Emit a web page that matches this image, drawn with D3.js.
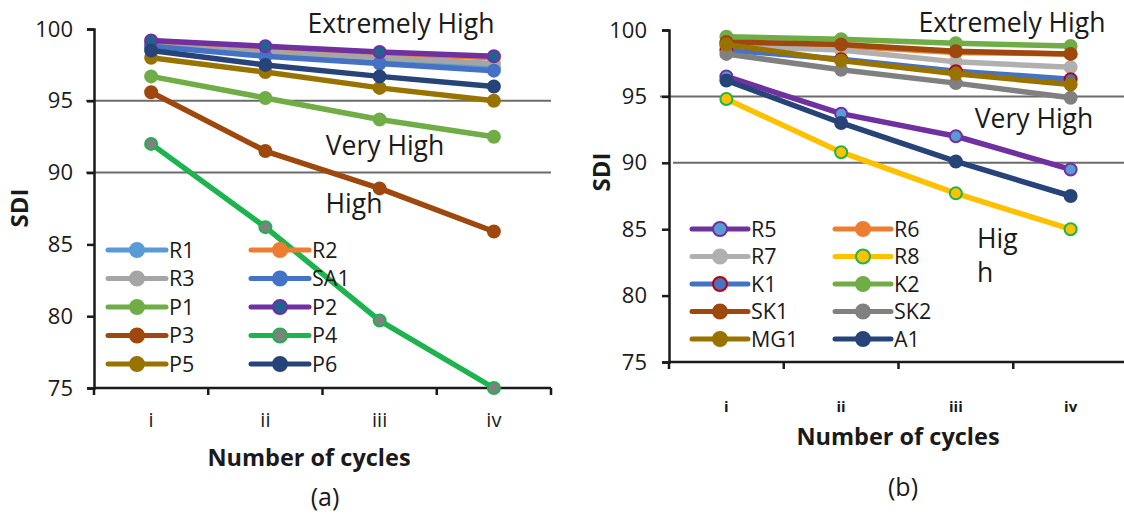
<!DOCTYPE html>
<html>
<head>
<meta charset="utf-8">
<script src="https://cdn.jsdelivr.net/npm/d3@7"></script>
<style>
  html, body { margin: 0; padding: 0; background: #fff; }
  svg { display: block; }
  text { font-family: "Open Sans", "Noto Sans", sans-serif; fill: #1a1a1a; }
</style>
</head>
<body>
<svg id="chart" width="1124" height="514"></svg>
<script>
// ---------- DATA ----------
const cycles = ["i", "ii", "iii", "iv"];
const yTicks = [75, 80, 85, 90, 95, 100];
const thresholds = [95, 90];

// Panel (a)
const namesA = ["R1", "R2", "R3", "SA1", "P1", "P2", "P3", "P4", "P5", "P6"];
const R1 = [98.9, 98.2, 97.7, 97.3];
const R2 = [99.0, 98.7, 98.3, 98.0];
const R3 = [98.8, 98.4, 98.0, 97.6];
const SA1 = [98.8, 98.1, 97.6, 97.1];
const P1 = [96.7, 95.2, 93.7, 92.5];
const P2 = [99.2, 98.8, 98.4, 98.1];
const P3 = [95.6, 91.5, 88.9, 85.9];
const P4 = [92.0, 86.2, 79.7, 75.0];
const P5 = [98.0, 97.0, 95.9, 95.0];
const P6 = [98.5, 97.5, 96.7, 96.0];
const valuesA = [R1, R2, R3, SA1, P1, P2, P3, P4, P5, P6];

// Panel (b)
const namesB = ["R5", "R6", "R7", "R8", "K1", "K2", "SK1", "SK2", "MG1", "A1"];
const R5 = [96.5, 93.7, 92.0, 89.5];
const R6 = [99.0, 98.8, 98.3, 98.2];
const R7 = [98.8, 98.5, 97.6, 97.2];
const R8 = [94.8, 90.8, 87.7, 85.0];
const K1 = [98.5, 97.8, 96.9, 96.3];
const K2 = [99.5, 99.3, 99.0, 98.8];
const SK1 = [99.1, 98.9, 98.4, 98.2];
const SK2 = [98.2, 97.0, 96.0, 94.9];
const MG1 = [98.9, 97.7, 96.7, 95.9];
const A1 = [96.2, 93.0, 90.1, 87.5];
const valuesB = [R5, R6, R7, R8, K1, K2, SK1, SK2, MG1, A1];

// ---------- STYLES ----------
const styleA = {
  R1:  { line: "#5b9bd5", fill: "#5b9bd5", stroke: "#5b9bd5" },
  R2:  { line: "#ed7d31", fill: "#ed7d31", stroke: "#ed7d31" },
  R3:  { line: "#a5a5a5", fill: "#a5a5a5", stroke: "#a5a5a5" },
  SA1: { line: "#4472c4", fill: "#4472c4", stroke: "#4472c4" },
  P1:  { line: "#70ad47", fill: "#70ad47", stroke: "#70ad47" },
  P2:  { line: "#7030a0", fill: "#1f6391", stroke: "#7030a0" },
  P3:  { line: "#9e480e", fill: "#9e480e", stroke: "#9e480e" },
  P4:  { line: "#1db34f", fill: "#808080", stroke: "#1db34f" },
  P5:  { line: "#997300", fill: "#997300", stroke: "#997300" },
  P6:  { line: "#264478", fill: "#264478", stroke: "#264478" }
};
const styleB = {
  R5:  { line: "#7030a0", fill: "#5b9bd5", stroke: "#7030a0" },
  R6:  { line: "#ed7d31", fill: "#ed7d31", stroke: "#ed7d31" },
  R7:  { line: "#b0b0b0", fill: "#b0b0b0", stroke: "#b0b0b0" },
  R8:  { line: "#ffc000", fill: "#ffc000", stroke: "#1db34f" },
  K1:  { line: "#4472c4", fill: "#4472c4", stroke: "#c00000" },
  K2:  { line: "#70ad47", fill: "#70ad47", stroke: "#70ad47" },
  SK1: { line: "#9e480e", fill: "#9e480e", stroke: "#9e480e" },
  SK2: { line: "#808080", fill: "#808080", stroke: "#808080" },
  MG1: { line: "#997300", fill: "#997300", stroke: "#997300" },
  A1:  { line: "#264478", fill: "#264478", stroke: "#264478" }
};

const svg = d3.select("#chart");

function drawPanel(cfg) {
  const g = svg.append("g");
  const x = d3.scaleBand().domain(cycles).range([cfg.x0, cfg.x1]);
  const y = d3.scaleLinear().domain([75, 100]).range([cfg.y0, cfg.y1]);
  const cx = c => x(c) + x.bandwidth() / 2;

  // threshold lines
  thresholds.forEach((t, i) => {
    g.append("line")
      .attr("x1", cfg.gridStart[i]).attr("x2", cfg.gridEnd)
      .attr("y1", y(t)).attr("y2", y(t))
      .attr("stroke", "#6b6b6b").attr("stroke-width", 2);
  });

  // y axis
  const yAxis = d3.axisLeft(y).tickValues(yTicks).tickSize(7).tickPadding(cfg.yTickPad);
  const ya = g.append("g").attr("transform", `translate(${cfg.x0},0)`).call(yAxis);
  ya.select(".domain").attr("stroke", "#1a1a1a").attr("stroke-width", 2.5);
  ya.selectAll(".tick line").attr("stroke", "#1a1a1a").attr("stroke-width", 2.5);
  ya.selectAll(".tick text").style("font-size", "22px").style("font-family", "'Open Sans', sans-serif")
    .attr("fill", "#1a1a1a");

  // x axis
  const xAxis = d3.axisBottom(x).tickSize(0).tickPadding(cfg.xTickPad);
  const xa = g.append("g").attr("transform", `translate(0,${cfg.y0})`).call(xAxis);
  xa.select(".domain").remove();
  xa.selectAll(".tick text").style("font-size", cfg.xTickSize).style("font-weight", cfg.xTickWeight)
    .style("font-family", "'Open Sans', sans-serif").attr("fill", "#1a1a1a");
  g.append("line").attr("x1", cfg.x0).attr("x2", cfg.x1).attr("y1", cfg.y0).attr("y2", cfg.y0)
    .attr("stroke", "#1a1a1a").attr("stroke-width", 2.5);
  const bounds = cycles.map(c => x(c)).concat([cfg.x1]);
  g.selectAll(".xb").data(bounds).enter().append("line")
    .attr("x1", d => d).attr("x2", d => d).attr("y1", cfg.y0).attr("y2", cfg.y0 + 7)
    .attr("stroke", "#1a1a1a").attr("stroke-width", 2.5);

  // region labels
  cfg.labels.forEach(l => {
    g.append("text").attr("x", l.x).attr("y", l.y).attr("text-anchor", l.anchor || "middle")
      .style("font-size", "26.5px").text(l.t);
  });

  // series
  const line = d3.line().x((d, i) => cx(cycles[i])).y(d => y(d));
  cfg.names.forEach((n, k) => {
    const s = cfg.style[n];
    const vals = cfg.values[k];
    const sg = g.append("g");
    sg.append("path").datum(vals).attr("d", line).attr("fill", "none")
      .attr("stroke", s.line).attr("stroke-width", 5.5).attr("stroke-linejoin", "round");
    sg.selectAll("circle").data(vals).enter().append("circle")
      .attr("cx", (d, i) => cx(cycles[i])).attr("cy", d => y(d)).attr("r", 6)
      .attr("fill", s.fill).attr("stroke", s.stroke).attr("stroke-width", 2);
  });

  // legend
  const lg = g.append("g");
  cfg.names.forEach((n, k) => {
    const s = cfg.style[n];
    const col = k % 2, row = Math.floor(k / 2);
    const lx = cfg.legX[col], ly = cfg.legY0 + row * cfg.legDy;
    lg.append("line").attr("x1", lx).attr("x2", lx + cfg.legW).attr("y1", ly).attr("y2", ly)
      .attr("stroke", s.line).attr("stroke-width", 5).attr("stroke-linecap", "round");
    lg.append("circle").attr("cx", lx + cfg.legW / 2).attr("cy", ly).attr("r", 7)
      .attr("fill", s.fill).attr("stroke", s.stroke).attr("stroke-width", 2);
    lg.append("text").attr("x", lx + cfg.legW + 3).attr("y", ly).attr("dy", "0.36em")
      .style("font-size", "21.5px").text(n);
  });

  // titles
  g.append("text").attr("transform", `translate(${cfg.yTitleX},${cfg.yTitleY}) rotate(-90)`)
    .attr("text-anchor", "middle").attr("dy", "0.35em")
    .style("font-size", "24px").style("font-weight", "bold").text("SDI");
  g.append("text").attr("x", cfg.xTitleX).attr("y", cfg.xTitleY).attr("text-anchor", "middle")
    .style("font-size", "23.5px").style("font-weight", "bold").text("Number of cycles");
  g.append("text").attr("x", cfg.capX).attr("y", cfg.capY).attr("text-anchor", "middle")
    .style("font-size", "25px").text(cfg.caption);
}

drawPanel({
  names: namesA, values: valuesA, style: styleA,
  x0: 94, x1: 551, y0: 388, y1: 29,
  gridStart: [86, 86], gridEnd: 551,
  yTickPad: 14,
  xTickPad: 25, xTickSize: "20px", xTickWeight: "normal",
  labels: [
    { t: "Extremely High", x: 401, y: 33 },
    { t: "Very High", x: 385, y: 155 },
    { t: "High", x: 354, y: 213 }
  ],
  legX: [108, 251], legW: 58, legY0: 250, legDy: 28.5,
  yTitleX: 20, yTitleY: 208,
  xTitleX: 309, xTitleY: 466,
  capX: 325, capY: 506, caption: "(a)"
});

drawPanel({
  names: namesB, values: valuesB, style: styleB,
  x0: 669, x1: 1128, y0: 362, y1: 30,
  gridStart: [660, 673], gridEnd: 1124,
  yTickPad: 15,
  xTickPad: 39, xTickSize: "15px", xTickWeight: "bold",
  labels: [
    { t: "Extremely High", x: 1012, y: 32 },
    { t: "Very High", x: 1034, y: 128 },
    { t: "Hig", x: 977, y: 248, anchor: "start" },
    { t: "h", x: 977, y: 282, anchor: "start" }
  ],
  legX: [692, 835], legW: 56, legY0: 229, legDy: 27.5,
  yTitleX: 602, yTitleY: 172,
  xTitleX: 898, xTitleY: 445,
  capX: 903, capY: 496, caption: "(b)"
});
</script>
</body>
</html>
